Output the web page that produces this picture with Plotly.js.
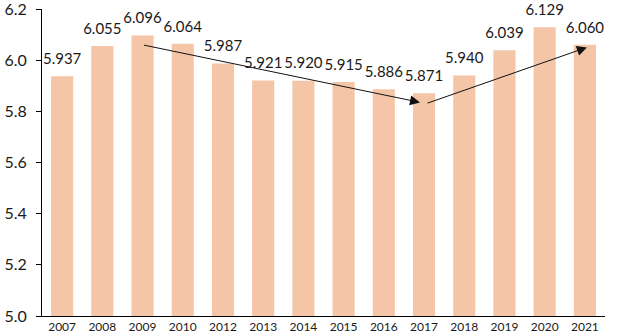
<!DOCTYPE html>
<html><head><meta charset="utf-8">
<script src="https://cdn.plot.ly/plotly-3.0.1.min.js"></script>
<style>html,body{margin:0;padding:0;background:#fff}#c{width:617px;height:336px}</style>
</head><body><div id="c"></div>
<script>
const years = ['2007','2008','2009','2010','2012','2013','2014','2015','2016','2017','2018','2019','2020','2021'];
const values = [5.937,6.055,6.096,6.064,5.987,5.921,5.920,5.915,5.886,5.871,5.940,6.039,6.129,6.060];
const labels = values.map(v => v.toFixed(3));
const yTicks = [5.0, 5.2, 5.4, 5.6, 5.8, 6.0, 6.2];
// arrows: [startIdx, startVal, endIdx, endVal]
const arrowDown = [2.0, 6.06, 8.9, 5.835];
const arrowUp = [9.05, 5.83, 13.05, 6.05];

const bars = {
  type: 'bar', x: years, y: values,
  marker: {color: '#F4C6A7'},
  hoverinfo: 'none'
};
const texts = {
  type: 'scatter', mode: 'markers+text', x: years, y: values, text: labels,
  textposition: 'top center', cliponaxis: false,
  marker: {size: 12, opacity: 0},
  textfont: {family: 'Lato, "Open Sans", sans-serif', size: 15, color: '#1a1a1a'},
  hoverinfo: 'none'
};
function arrow(a){
  return {x: a[2], y: a[3], ax: a[0], ay: a[1], xref:'x', yref:'y', axref:'x', ayref:'y',
    showarrow: true, arrowhead: 2, arrowsize: 2, arrowwidth: 1, arrowcolor: '#111', text: '', standoff: 0};
}
const layout = {
  width: 617, height: 336,
  margin: {l: 42, r: 12, t: 9, b: 20},
  paper_bgcolor: '#fff', plot_bgcolor: '#fff',
  bargap: 0.45, showlegend: false,
  font: {family: 'Lato, "Open Sans", sans-serif', color: '#1a1a1a'},
  xaxis: {type: 'category', range: [-0.5, years.length - 0.5], showline: true, linecolor: '#000', linewidth: 1, ticks: '',
    tickfont: {size: 12, color: '#1a1a1a'}, showgrid: false, zeroline: false},
  yaxis: {range: [5.0, 6.2], tickmode: 'array', tickvals: yTicks, ticktext: yTicks.map(v => v.toFixed(1)),
    showline: true, linecolor: '#000', linewidth: 1, ticklabeloverflow: 'allow',
    ticks: 'outside', ticklen: 5, tickcolor: '#000', tickfont: {size: 16, color: '#1a1a1a'},
    showgrid: false, zeroline: false, ticklabelstandoff: 6},
  annotations: [arrow(arrowDown), arrow(arrowUp)]
};
Plotly.newPlot('c', [bars, texts], layout, {displayModeBar: false, staticPlot: true});
</script></body></html>
